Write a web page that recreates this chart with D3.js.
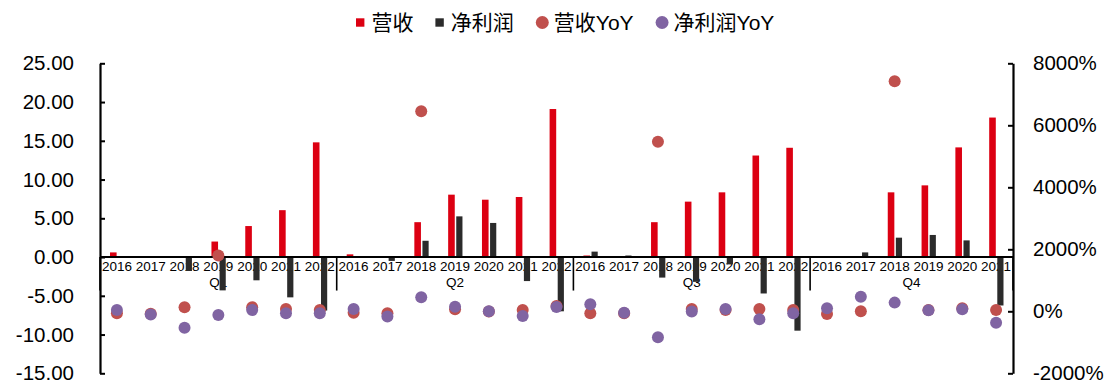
<!DOCTYPE html>
<html>
<head>
<meta charset="utf-8">
<script src="https://cdn.jsdelivr.net/npm/d3@7"></script>
<style>
  body { margin: 0; background: #fff; }
  svg { display: block; }
</style>
</head>
<body>
<svg id="chart" width="1106" height="380"></svg>
<script>
// Quarter groups and the years shown in each
const quarters = ["Q1", "Q2", "Q3", "Q4"];
const yearsQ1 = [2016, 2017, 2018, 2019, 2020, 2021, 2022];
const yearsQ2 = [2016, 2017, 2018, 2019, 2020, 2021, 2022];
const yearsQ3 = [2016, 2017, 2018, 2019, 2020, 2021, 2022];
const yearsQ4 = [2016, 2017, 2018, 2019, 2020, 2021];

// 营收 (left axis), quarter by quarter
const revenue = [
  0.6, 0, 0, 2.0, 4.0, 6.05, 14.8,        // Q1
  0.35, 0, 4.5, 8.05, 7.4, 7.75, 19.1,    // Q2
  0.2, 0, 4.5, 7.15, 8.35, 13.1, 14.1,    // Q3
  0, 0, 8.35, 9.25, 14.15, 18.0           // Q4
];
// 净利润 (left axis)
const netProfit = [
  0, 0, -1.8, -4.3, -3.0, -5.2, -6.9,     // Q1
  0, -0.5, 2.1, 5.25, 4.4, -3.1, -7.0,    // Q2
  0.7, 0.2, -2.65, -3.2, -0.95, -4.7, -9.5, // Q3
  0, 0.6, 2.5, 2.85, 2.15, -6.25          // Q4
];
// 营收YoY (right axis, %)
const revenueYoY = [
  -65, -80, 130, 1800, 130, 75, 40,       // Q1
  -45, -65, 6450, 65, -10, 40, 170,       // Q2
  -65, -65, 5470, 75, 40, 75, 40,         // Q3
  -90, 0, 7420, 40, 95, 40                // Q4
];
// 净利润YoY (right axis, %)
const netProfitYoY = [
  40, -100, -530, -120, 40, -65, -65,     // Q1
  75, -170, 450, 150, 0, -150, 140,       // Q2
  225, -45, -840, -10, 75, -260, -65,     // Q3
  95, 470, 280, 30, 65, -370              // Q4
];

const leftTicks = [-15, -10, -5, 0, 5, 10, 15, 20, 25];
const rightTicks = [-2000, 0, 2000, 4000, 6000, 8000];
const legendLabels = ["营收", "净利润", "营收YoY", "净利润YoY"];

const colors = {
  revenue: "#DC0012",
  profit: "#2B2B2B",
  revenueYoY: "#C0504D",
  profitYoY: "#8064A2"
};

// Build the flat category list (one row per quarter/year)
const yearLists = [yearsQ1, yearsQ2, yearsQ3, yearsQ4];
const rows = [];
quarters.forEach((q, qi) => {
  yearLists[qi].forEach(y => {
    const i = rows.length;
    rows.push({
      key: q + "-" + y, quarter: q, year: y,
      revenue: revenue[i], profit: netProfit[i],
      revYoY: revenueYoY[i], profYoY: netProfitYoY[i]
    });
  });
});

const svg = d3.select("#chart");
const plot = { left: 100, right: 1013, top: 63.3, bottom: 373.3 };

const x = d3.scaleBand().domain(rows.map(d => d.key))
  .range([plot.left, plot.right]).padding(0);
const yL = d3.scaleLinear().domain([-15, 25]).range([plot.bottom, plot.top]);
const yR = d3.scaleLinear().domain([-2000, 8000]).range([plot.bottom, plot.top]);

const numFont = "'Liberation Sans', Arial, sans-serif";
const zeroY = yL(0);

// Year labels under the zero line
svg.append("g").selectAll("text").data(rows).join("text")
  .attr("x", d => x(d.key) + x.bandwidth() / 2)
  .attr("y", zeroY + 13.5)
  .attr("text-anchor", "middle")
  .attr("font-family", numFont)
  .attr("font-size", "13.5px")
  .attr("fill", "#000")
  .text(d => d.year);

// Quarter labels centred under each group
const groups = quarters.map(q => {
  const members = rows.filter(r => r.quarter === q);
  const x0 = x(members[0].key);
  const x1 = x(members[members.length - 1].key) + x.bandwidth();
  return { q, x0, x1 };
});
svg.append("g").selectAll("text").data(groups).join("text")
  .attr("x", d => (d.x0 + d.x1) / 2)
  .attr("y", zeroY + 30)
  .attr("text-anchor", "middle")
  .attr("font-family", numFont)
  .attr("font-size", "13.5px")
  .attr("fill", "#000")
  .text(d => d.q);

// Paired bars: 营收 to the left of centre, 净利润 to the right
const barW = 6.6;
const bars = svg.append("g");
bars.selectAll("rect.rev").data(rows).join("rect")
  .attr("class", "rev")
  .attr("x", d => x(d.key) + x.bandwidth() / 2 - barW - 0.3)
  .attr("y", d => Math.min(yL(d.revenue), zeroY))
  .attr("width", barW)
  .attr("height", d => Math.abs(yL(d.revenue) - zeroY))
  .attr("fill", colors.revenue);
bars.selectAll("rect.prof").data(rows).join("rect")
  .attr("class", "prof")
  .attr("x", d => x(d.key) + x.bandwidth() / 2 + 1.2)
  .attr("y", d => Math.min(yL(d.profit), zeroY))
  .attr("width", barW - 0.4)
  .attr("height", d => Math.abs(yL(d.profit) - zeroY))
  .attr("fill", colors.profit);

// Category axis line with group separators
const catAxis = svg.append("g").attr("stroke", "#000");
catAxis.append("line")
  .attr("x1", plot.left).attr("x2", plot.right)
  .attr("y1", zeroY).attr("y2", zeroY)
  .attr("stroke-width", 2);
const seps = [plot.left].concat(groups.map(g => g.x1));
catAxis.selectAll("line.sep").data(seps).join("line")
  .attr("class", "sep")
  .attr("x1", d => d).attr("x2", d => d)
  .attr("y1", zeroY).attr("y2", zeroY + 33.5)
  .attr("stroke-width", 1.6);

// Left value axis
const axL = svg.append("g")
  .attr("transform", `translate(${plot.left},0)`)
  .call(d3.axisLeft(yL).tickValues(leftTicks)
    .tickFormat(d => d.toFixed(2))
    .tickSizeInner(-5).tickSizeOuter(0).tickPadding(26));
// Right percentage axis
const axR = svg.append("g")
  .attr("transform", `translate(${plot.right},0)`)
  .call(d3.axisRight(yR).tickValues(rightTicks)
    .tickFormat(d => d + "%")
    .tickSizeInner(-5).tickSizeOuter(0).tickPadding(20));
[axL, axR].forEach(ax => {
  ax.select(".domain").attr("stroke", "#000").attr("stroke-width", 2.2);
  ax.selectAll(".tick line").attr("stroke", "#000").attr("stroke-width", 2);
  ax.selectAll(".tick text")
    .attr("font-family", numFont)
    .attr("font-size", "20.5px")
    .attr("fill", "#000");
});

// YoY dots on the right axis
const dots = svg.append("g");
dots.selectAll("circle.rev").data(rows).join("circle")
  .attr("class", "rev")
  .attr("cx", d => x(d.key) + x.bandwidth() / 2)
  .attr("cy", d => yR(d.revYoY))
  .attr("r", 6)
  .attr("fill", colors.revenueYoY);
dots.selectAll("circle.prof").data(rows).join("circle")
  .attr("class", "prof")
  .attr("cx", d => x(d.key) + x.bandwidth() / 2)
  .attr("cy", d => yR(d.profYoY))
  .attr("r", 6)
  .attr("fill", colors.profitYoY);

// Legend across the top
const legendItems = [
  { label: legendLabels[0], shape: "square", color: colors.revenue },
  { label: legendLabels[1], shape: "square", color: colors.profit },
  { label: legendLabels[2], shape: "circle", color: colors.revenueYoY },
  { label: legendLabels[3], shape: "circle", color: colors.profitYoY }
];
const legend = svg.append("g");
let lx = 356;
const ly = 22.5;
legendItems.forEach(item => {
  const g = legend.append("g");
  let markerW;
  if (item.shape === "square") {
    g.append("rect").attr("x", lx).attr("y", ly - 4.2)
      .attr("width", 8.4).attr("height", 8.4).attr("fill", item.color);
    markerW = 8.4 + 7;
  } else {
    g.append("circle").attr("cx", lx + 6.5).attr("cy", ly)
      .attr("r", 6.5).attr("fill", item.color);
    markerW = 13 + 5;
  }
  const t = g.append("text")
    .attr("x", lx + markerW).attr("y", ly)
    .attr("dy", "0.36em")
    .attr("font-family", "'Liberation Sans', 'Noto Sans CJK SC', sans-serif")
    .attr("font-size", "21px")
    .attr("fill", "#000")
    .text(item.label);
  lx += markerW + t.node().getComputedTextLength() + 22;
});
</script>
</body>
</html>
